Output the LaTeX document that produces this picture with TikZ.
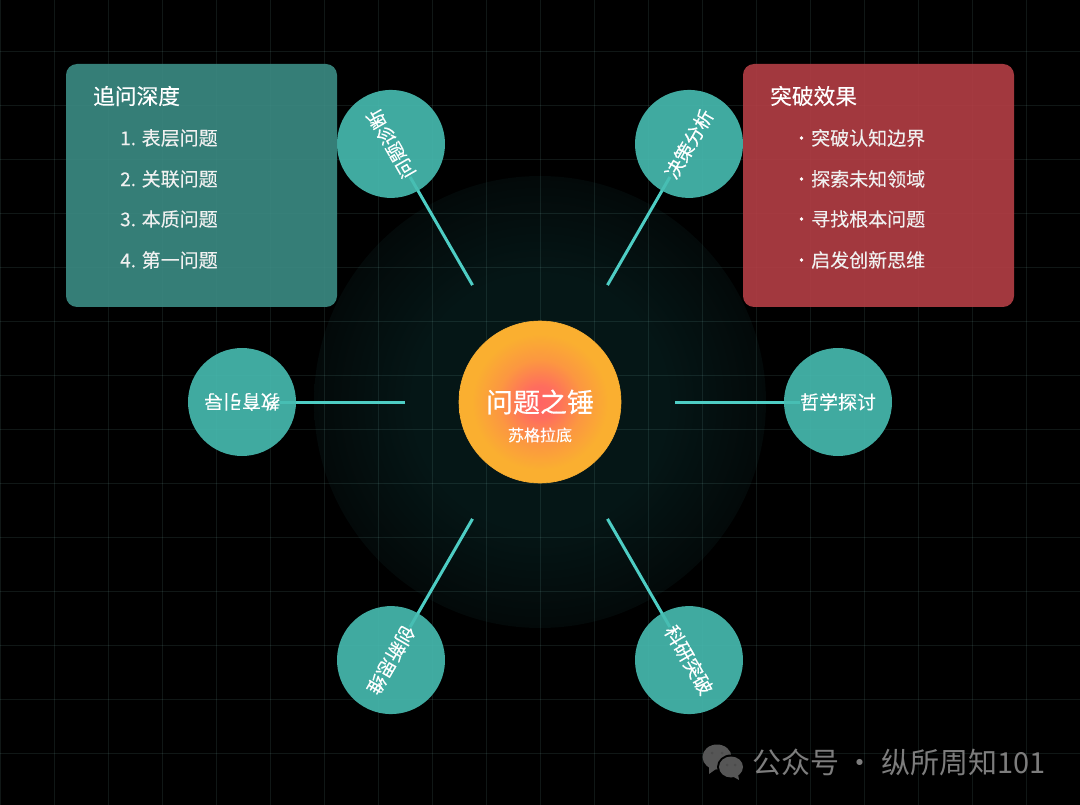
\documentclass[tikz,border=0pt]{standalone}
\usepackage{fontspec}
\setmainfont{Noto Sans CJK SC}[FakeBold=0.2]
\newfontfamily\markfont{Noto Sans CJK SC}
\usetikzlibrary{backgrounds}
\definecolor{spokecol}{HTML}{4ECDC4}
\definecolor{leafcol}{RGB}{71,189,178}
\definecolor{gridcol}{HTML}{9FE8E0}
\definecolor{depthcol}{RGB}{60,142,134}
\definecolor{effectcol}{RGB}{183,63,70}
\definecolor{hammercore}{RGB}{255,100,100}
\definecolor{hammerrim}{RGB}{250,175,48}
\definecolor{glowcore}{RGB}{5,22,22}
\definecolor{glowrim}{RGB}{3,9,9}
\definecolor{markgray}{RGB}{125,125,125}
\pgfdeclareradialshading{hammerball}{\pgfpointorigin}{color(0bp)=(hammercore); color(5bp)=(hammercore!88!hammerrim); color(13bp)=(hammerrim!68!hammercore); color(21bp)=(hammerrim); color(50bp)=(hammerrim)}
\pgfdeclareradialshading{hammerglow}{\pgfpointorigin}{color(0bp)=(glowcore); color(14bp)=(glowcore); color(25bp)=(glowrim); color(50bp)=(glowrim)}
\tikzset{
    fs/.code 2 args={\fontsize{#1}{#2}\selectfont},
    leaf/.style={circle, minimum size=108pt, inner sep=0pt, fill=leafcol, fill opacity=0.9, text opacity=1, text=white, fs={19}{22}},
    spoke/.style={draw=spokecol, line width=3pt, line cap=butt},
    notebox/.style={rectangle, rounded corners=11pt, minimum width=271pt, minimum height=243pt, inner sep=0pt, fill opacity=0.89},
    notehead/.style={anchor=west, inner sep=0pt, text=white, fs={21.7}{26}},
    noteitem/.style={anchor=west, inner sep=0pt, text=white!94!black, fs={19}{22}},
}
\begin{document}
\begin{tikzpicture}[x=1pt,y=-1pt,>=stealth, line join=round]
    \def\xmax{1080} \def\ymax{805}
    \def\cx{540} \def\cy{402}
    \useasboundingbox (0,0) rectangle (\xmax,\ymax);

    % centre
    \node[circle, minimum size=162pt, inner sep=0pt, shading=hammerball, draw=hammerrim, line width=0.6pt, text=white, fs={27}{32}] (hammer) at (\cx,\cy) {问题之锤};
    \node[inner sep=0pt, text=white, fs={16}{20}] (socrates) at (\cx,435) {苏格拉底};

    % ring
    \node[leaf, rotate=0]    (philo)   at ([shift={(0:298)}]hammer.center)   {哲学探讨};
    \node[leaf, rotate=-60]  (science) at ([shift={(60:298)}]hammer.center)  {科研突破};
    \node[leaf, rotate=-120] (create)  at ([shift={(120:298)}]hammer.center) {创新思维};
    \node[leaf, rotate=-180] (teach)   at ([shift={(180:298)}]hammer.center) {教育引导};
    \node[leaf, rotate=-240] (diagnose) at ([shift={(240:298)}]hammer.center) {问题诊断};
    \node[leaf, rotate=-300] (decide)  at ([shift={(300:298)}]hammer.center) {决策分析};

    % boxes
    \node[notebox, fill=depthcol]  (depth)  at (201.5,185.5) {};
    \node[notebox, fill=effectcol] (effect) at (878.5,185.5) {};
    \node[notehead] (depthhead) at (93,96) {追问深度};
    \node[notehead] (effecthead) at (770,96) {突破效果};
    \foreach \y/\t in {138/1. 表层问题, 179/2. 关联问题, 219/3. 本质问题, 260/4. 第一问题}
        \node[noteitem] (depth\y) at (120,\y) {\t};
    \foreach \y/\t in {138/突破认知边界, 179/探索未知领域, 219/寻找根本问题, 260/启发创新思维}{
        \node[noteitem] (effect\y) at (811,\y) {\t};
        \fill[white] (801.5,\y) circle (1.8);
    }

    \begin{scope}[on background layer]
        \fill[black] (0,0) rectangle (\xmax,\ymax);
        \node[circle, minimum size=452pt, inner sep=0pt, shading=hammerglow] (glow) at (\cx,\cy) {};
        \foreach \i in {0,...,20}
            \draw[gridcol, opacity=0.1, line width=1pt] (54*\i,0) -- (54*\i,\ymax);
        \foreach \j in {0,...,14}
            \draw[gridcol, opacity=0.1, line width=1pt] (0,51.6+54*\j) -- (\xmax,51.6+54*\j);
        % spokes
        \foreach \a/\n in {0/philo, 60/science, 120/create, 180/teach, 240/diagnose, 300/decide}{
            \coordinate (start\n) at ([shift={(\a:135)}]hammer.center);
            \draw[spoke, shorten >=-16pt] (start\n) -- (\n);
        }
    \end{scope}

    % mark
    \fill[markgray!130] (717,757) ellipse (14.5 and 12.5);
    \fill[markgray!130] (709,767) -- (709,774) -- (716,769) -- cycle;
    \fill[black] (731,767) ellipse (14 and 12.5);
    \fill[markgray!130] (731,767) ellipse (12 and 10.5);
    \fill[markgray!130] (738,774) -- (739,780) -- (732,776) -- cycle;
    \foreach \p in {(712,753),(722,753),(727,765),(735,765)}
        \fill[black!70] \p circle (1.5);
    \node[anchor=west, inner sep=0pt, text=markgray, font=\markfont, fs={29}{32}] (mark) at (752,762) {公众号 · 纵所周知101};
\end{tikzpicture}
\end{document}
